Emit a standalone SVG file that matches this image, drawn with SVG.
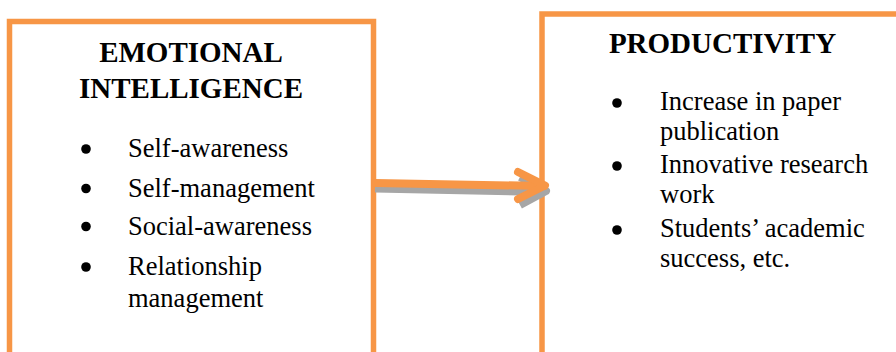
<svg xmlns="http://www.w3.org/2000/svg" width="896" height="352" viewBox="0 0 896 352">
<style>
.box{fill:#ffffff;stroke:#F79646;stroke-width:5.5}
.head{font-family:"Liberation Serif",serif;font-weight:bold;font-size:29px;fill:#000;text-anchor:middle}
.item{font-family:"Liberation Serif",serif;font-size:26.5px;fill:#000}
.bul{fill:#000}
.arr{fill:none;stroke:#F79646;stroke-width:8;stroke-linecap:round;stroke-linejoin:round}
.shd{fill:none;stroke:#A6A6A6;stroke-width:8;stroke-linecap:butt;stroke-linejoin:round}
</style>
<rect width="896" height="352" fill="#ffffff"/>
<g id="emotional-intelligence">
<rect class="box" x="9.5" y="21.5" width="364" height="400"/>
<text class="head" x="191" y="62">EMOTIONAL</text>
<text class="head" x="191" y="98">INTELLIGENCE</text>
<circle class="bul" cx="86" cy="149" r="4.8"/>
<text class="item" x="128" y="157">Self-awareness</text>
<circle class="bul" cx="86" cy="188.5" r="4.8"/>
<text class="item" x="128" y="196.5">Self-management</text>
<circle class="bul" cx="86" cy="226.5" r="4.8"/>
<text class="item" x="128" y="234.5">Social-awareness</text>
<circle class="bul" cx="86" cy="267" r="4.8"/>
<text class="item" x="128" y="275">Relationship</text>
<text class="item" x="128" y="307">management</text>
</g>
<g id="productivity">
<rect class="box" x="542" y="14" width="400" height="400"/>
<text class="head" x="722.5" y="53">PRODUCTIVITY</text>
<circle class="bul" cx="617" cy="103" r="4.8"/>
<text class="item" x="660" y="110">Increase in paper</text>
<text class="item" x="660" y="140">publication</text>
<circle class="bul" cx="617" cy="166" r="4.8"/>
<text class="item" x="660" y="173">Innovative research</text>
<text class="item" x="660" y="203">work</text>
<circle class="bul" cx="617" cy="230" r="4.8"/>
<text class="item" x="660" y="237">Students’ academic</text>
<text class="item" x="660" y="267">success, etc.</text>
</g>
<g id="connectors">
<path class="shd" d="M375 188.5 L544 192"/>
<path class="shd" d="M520 177 L546 191 L520 205"/>
<path class="arr" d="M375 183 L544 186"/>
<path class="arr" d="M518 172 L545 185.5 L518 199"/>
</g>
</svg>
